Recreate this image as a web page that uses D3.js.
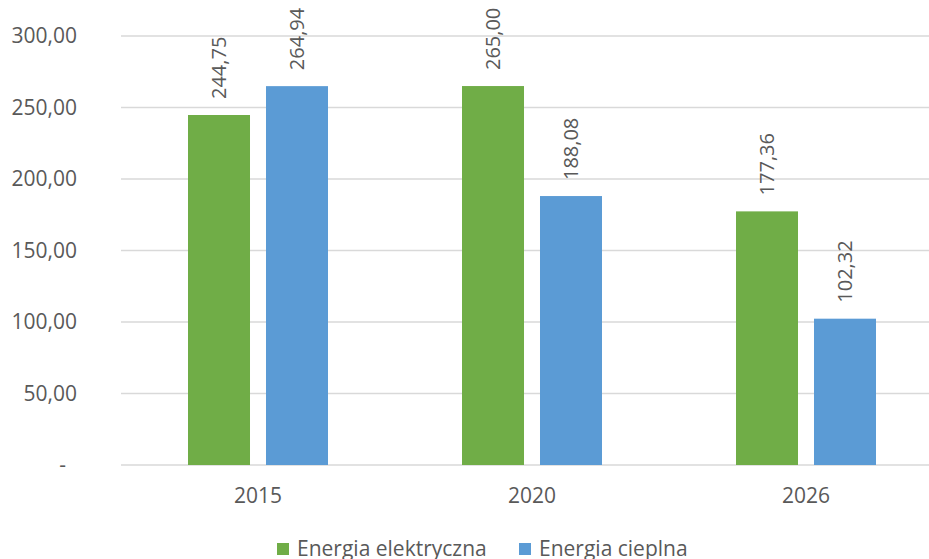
<!DOCTYPE html>
<html>
<head>
<meta charset="utf-8">
<script src="https://cdn.jsdelivr.net/npm/d3@7.9.0/dist/d3.min.js"></script>
<style>
  body { margin: 0; background: #fff; }
  svg { display: block; font-family: "Open Sans", sans-serif; }
  text { fill: #595959; }
</style>
</head>
<body>
<svg id="chart" width="929" height="559"></svg>
<script>
const years = ['2015', '2020', '2026'];
const series = ['Energia elektryczna', 'Energia cieplna'];
const elektryczna = [244.75, 265.00, 177.36];
const cieplna = [264.94, 188.08, 102.32];
const yTicks = [0, 50, 100, 150, 200, 250, 300];
const colors = ['#70ad47', '#5b9bd5'];

const values = [elektryczna, cieplna];
const fmt = v => v === 0 ? '-' : d3.format(',.2f')(v).replace(/,/g, ' ').replace('.', ',');

const svg = d3.select('#chart');

const x0 = d3.scaleBand().domain(years).range([121, 943]).paddingInner(0);
const x1 = d3.scaleBand().domain(series).range([0, x0.bandwidth()])
  .paddingInner(0.205).paddingOuter(0.859);
const y = d3.scaleLinear().domain([0, 300]).range([465, 36]);

// gridlines
svg.append('g')
  .selectAll('line')
  .data(yTicks)
  .join('line')
  .attr('x1', 121)
  .attr('x2', 943)
  .attr('y1', d => y(d))
  .attr('y2', d => y(d))
  .attr('stroke', '#d9d9d9')
  .attr('stroke-width', 1.5);

// y labels
svg.append('g')
  .selectAll('text')
  .data(yTicks)
  .join('text')
  .attr('x', d => d === 0 ? 66 : 77)
  .attr('y', d => y(d))
  .attr('dy', '0.35em')
  .attr('text-anchor', 'end')
  .style('font-size', '21px')
  .text(d => fmt(d));

// bars
series.forEach((s, si) => {
  const g = svg.append('g');
  g.selectAll('rect')
    .data(years)
    .join('rect')
    .attr('x', d => x0(d) + x1(s))
    .attr('width', x1.bandwidth())
    .attr('y', (d, i) => y(values[si][i]))
    .attr('height', (d, i) => y(0) - y(values[si][i]))
    .attr('fill', colors[si]);

  g.selectAll('text')
    .data(years)
    .join('text')
    .attr('transform', (d, i) => {
      const cx = x0(d) + x1(s) + x1.bandwidth() / 2;
      const cy = y(values[si][i]) - 16;
      return `translate(${cx},${cy}) rotate(-90)`;
    })
    .attr('dy', '0.35em')
    .attr('text-anchor', 'start')
    .style('font-size', '20px')
    .text((d, i) => fmt(values[si][i]));
});

// x labels
svg.append('g')
  .selectAll('text')
  .data(years)
  .join('text')
  .attr('x', d => x0(d) + x0.bandwidth() / 2)
  .attr('y', 496)
  .attr('dy', '0.35em')
  .attr('text-anchor', 'middle')
  .style('font-size', '21px')
  .text(d => d);

// legend
const legendX = [277, 519];
const legend = svg.append('g')
  .selectAll('g')
  .data(series)
  .join('g')
  .attr('transform', (d, i) => `translate(${legendX[i]},549)`);

legend.append('rect')
  .attr('x', 0)
  .attr('y', -6)
  .attr('width', 12)
  .attr('height', 12)
  .attr('fill', (d, i) => colors[i]);

legend.append('text')
  .attr('x', 20)
  .attr('dy', '0.35em')
  .style('font-size', '21px')
  .text(d => d);
</script>
</body>
</html>
